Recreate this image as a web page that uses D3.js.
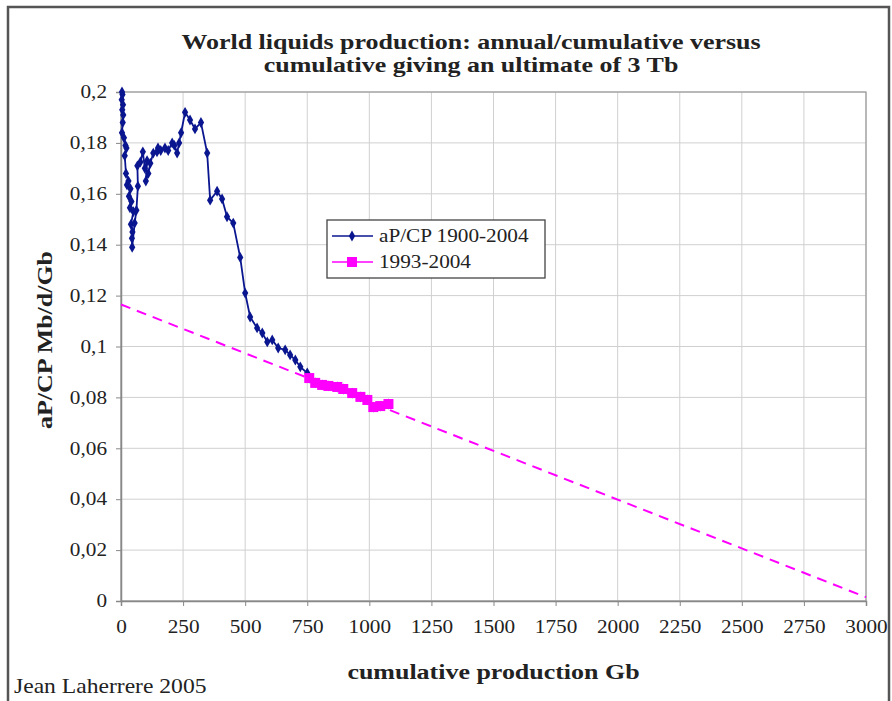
<!DOCTYPE html>
<html><head><meta charset="utf-8">
<script src="https://cdn.jsdelivr.net/npm/d3@7"></script>
<style>
body{margin:0;background:#fff;}
svg{display:block;}
text{font-family:"Liberation Serif","Times New Roman",serif;fill:#222;}
</style></head><body>
<svg id="c" width="892" height="701"></svg>
<script>
// ---- data ----
const titleLines = ["World liquids production: annual/cumulative versus", "cumulative giving an ultimate of 3 Tb"];
const xLabel = "cumulative production Gb";
const yLabel = "aP/CP Mb/d/Gb";
const credit = "Jean Laherrere 2005";
const seriesNames = ["aP/CP 1900-2004", "1993-2004"];
const xTicks = [0,250,500,750,1000,1250,1500,1750,2000,2250,2500,2750,3000];
const yTicks = [0,0.02,0.04,0.06,0.08,0.1,0.12,0.14,0.16,0.18,0.2];
// 1993-2004 (cumulative Gb, aP/CP)
const recentCP = [758,782,810,835,871,895,931,964,992,1016,1044,1077];
const recentRatio = [0.0876,0.0857,0.0849,0.0845,0.0841,0.0833,0.0817,0.0802,0.0790,0.0762,0.0766,0.0774];
// 1900-1992 (cumulative Gb, aP/CP), visible part
const histCP = [4,3,6,8,5,9,7,4,12,18,22,15,20,30,24,38,32,42,36,50,40,46,44,45,55,62,68,66,78,88,96,105,100,110,118,130,145,149,160,177,190,206,215,226,234,242,258,278,298,322,347,359,387,407,427,452,480,500,520,548,569,589,609,633,661,681,702,722,750];
const histRatio = [0.200,0.197,0.199,0.195,0.193,0.191,0.188,0.184,0.182,0.179,0.178,0.175,0.168,0.165,0.1635,0.162,0.159,0.157,0.1545,0.153,0.148,0.145,0.1425,0.139,0.1485,0.1535,0.163,0.171,0.1725,0.1765,0.170,0.173,0.165,0.168,0.172,0.176,0.1765,0.178,0.177,0.178,0.177,0.180,0.179,0.176,0.180,0.184,0.192,0.189,0.1855,0.188,0.176,0.1575,0.161,0.158,0.151,0.1485,0.135,0.121,0.1116,0.1073,0.1053,0.1018,0.1026,0.0994,0.0987,0.0967,0.0947,0.092,0.0896];
// linear fit: ultimate 3 Tb
const fitCP = [0, 3000];
const fitRatio = [0.1165, 0.0015];

// ---- layout ----
const svg = d3.select("#c");
const L = 121, R = 866, T = 92, B = 601;
const SX = 1.18; // horizontal stretch of the reference lettering
const x = d3.scaleLinear().domain([0,3000]).range([L,R]);
const y = d3.scaleLinear().domain([0,0.2]).range([B,T]);
const navy = "#0a168f", mag = "#ff00ff";

function stretchedText(parent, tx, ty, str, size, bold, anchor, rot){
  return parent.append("text")
    .attr("transform",`translate(${tx},${ty})${rot?` rotate(${rot})`:""} scale(${SX},1)`)
    .attr("text-anchor",anchor||"start")
    .style("font-size",size+"px").style("font-weight",bold?"bold":"normal").text(str);
}

// outer frame
svg.append("rect").attr("x",8).attr("y",7).attr("width",881).attr("height",710)
  .attr("fill","#fff").attr("stroke","#555").attr("stroke-width",2.5);

// title
titleLines.forEach((t,i)=>stretchedText(svg,471,49+i*23,t,22,true,"middle"));

// gridlines
svg.append("g").selectAll("line").data(yTicks).join("line")
  .attr("x1",L).attr("x2",R).attr("y1",d=>y(d)).attr("y2",d=>y(d))
  .attr("stroke","#d0d0d0").attr("stroke-width",1);
svg.append("g").selectAll("line").data(xTicks).join("line")
  .attr("y1",T).attr("y2",B).attr("x1",d=>x(d)).attr("x2",d=>x(d))
  .attr("stroke","#d0d0d0").attr("stroke-width",1);
svg.append("rect").attr("x",L).attr("y",T).attr("width",R-L).attr("height",B-T)
  .attr("fill","none").attr("stroke","#9a9a9a").attr("stroke-width",1.2);

// axes
const fmtY = d => d===0 ? "0" : String(+d.toFixed(2)).replace(".",",");
const yAxis = svg.append("g").attr("transform",`translate(${L},0)`)
  .call(d3.axisLeft(y).tickValues(yTicks).tickFormat(fmtY).tickSize(5).tickPadding(9));
const xAxis = svg.append("g").attr("transform",`translate(0,${B})`)
  .call(d3.axisBottom(x).tickValues(xTicks).tickFormat(d3.format("d")).tickSize(5).tickPadding(14));
[yAxis,xAxis].forEach(a=>{
  a.select(".domain").attr("stroke","#888").attr("stroke-width",1.5);
  a.selectAll(".tick line").attr("stroke","#888");
  a.selectAll("text").style("font-family",'"Liberation Serif",serif').style("font-size","18px").attr("fill","#333");
});
yAxis.selectAll(".tick text").attr("x",-14/SX).attr("transform",`scale(${SX},1)`);
xAxis.selectAll(".tick text").attr("transform",`scale(${SX},1)`);

// axis titles
stretchedText(svg,(L+R)/2,679,xLabel,22,true,"middle");
stretchedText(svg,52,340,yLabel,22,true,"middle",-90);
stretchedText(svg,14,693,credit,20,false,"start");

// plot clip
svg.append("clipPath").attr("id","pc").append("rect").attr("x",L-6).attr("y",T-6).attr("width",R-L+12).attr("height",B-T+12);
const plot = svg.append("g").attr("clip-path","url(#pc)");

// dashed fit line
plot.append("path").datum(fitCP.map((d,i)=>[d,fitRatio[i]]))
  .attr("d",d3.line().x(d=>x(d[0])).y(d=>y(d[1])))
  .attr("fill","none").attr("stroke",mag).attr("stroke-width",2).attr("stroke-dasharray","10,7");

// historical series (continues under 1993-2004)
const hist = histCP.map((d,i)=>[d,histRatio[i]]).concat(recentCP.map((d,i)=>[d,recentRatio[i]]));
plot.append("path").datum(hist).attr("d",d3.line().x(d=>x(d[0])).y(d=>y(d[1])))
  .attr("fill","none").attr("stroke",navy).attr("stroke-width",1.8);
const diamond = d3.symbol().type(d3.symbolDiamond).size(34);
plot.append("g").selectAll("path").data(hist).join("path")
  .attr("transform",d=>`translate(${x(d[0])},${y(d[1])})`).attr("d",diamond).attr("fill",navy);

// recent series
const recent = recentCP.map((d,i)=>[d,recentRatio[i]]);
plot.append("path").datum(recent).attr("d",d3.line().x(d=>x(d[0])).y(d=>y(d[1])))
  .attr("fill","none").attr("stroke",mag).attr("stroke-width",1.6);
plot.append("g").selectAll("rect").data(recent).join("rect")
  .attr("x",d=>x(d[0])-5).attr("y",d=>y(d[1])-5).attr("width",10).attr("height",10).attr("fill",mag);

// legend
const lg = svg.append("g").attr("transform","translate(327,220)");
lg.append("rect").attr("width",218).attr("height",58).attr("fill","#fff").attr("stroke","#444").attr("stroke-width",1.3);
const items = [{n:seriesNames[0],c:navy,s:"d"},{n:seriesNames[1],c:mag,s:"s"}];
items.forEach((d,i)=>{
  const g = lg.append("g").attr("transform",`translate(0,${16+i*26})`);
  g.append("line").attr("x1",5).attr("x2",46).attr("stroke",d.c).attr("stroke-width",1.6);
  if(d.s==="d") g.append("path").attr("transform","translate(25,0)").attr("d",diamond).attr("fill",d.c);
  else g.append("rect").attr("x",20).attr("y",-5).attr("width",10).attr("height",10).attr("fill",d.c);
  stretchedText(g,52,6,d.n,18,false,"start").attr("fill","#333");
});
</script>
</body></html>
